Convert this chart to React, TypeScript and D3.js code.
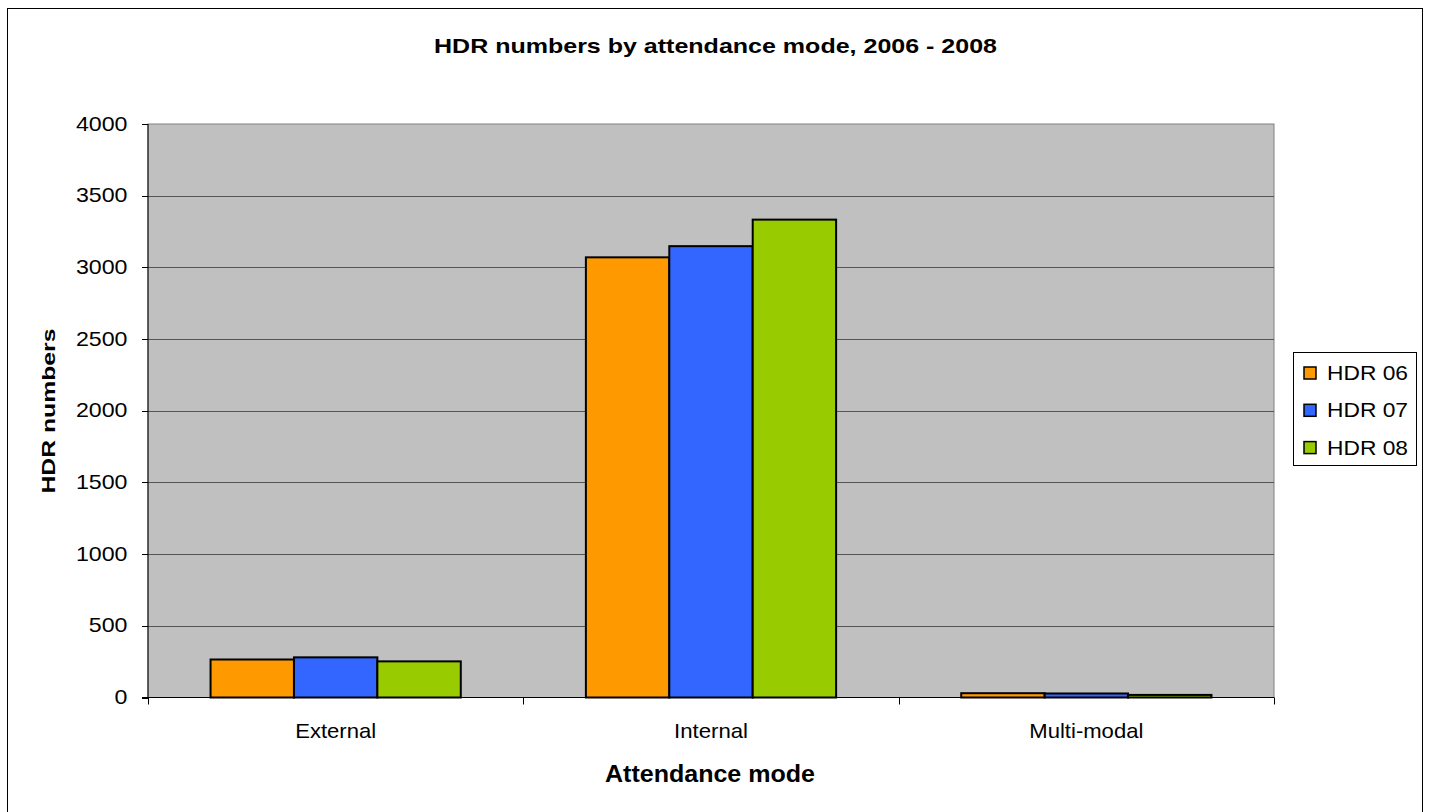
import React from "react";
import * as d3 from "d3";

const categories = ["External", "Internal", "Multi-modal"];
const seriesNames = ["HDR 06", "HDR 07", "HDR 08"];
const hdr06 = [265, 3070, 30];
const hdr07 = [280, 3148, 28];
const hdr08 = [252, 3333, 18];
const seriesColors = ["#FF9900", "#3366FF", "#99CC00"];
const yTicks = [0, 500, 1000, 1500, 2000, 2500, 3000, 3500, 4000];

const W = 1429;
const H = 812;
const plot = { left: 148, right: 1274, top: 124, bottom: 697.5 };
const FONT = "'Liberation Sans', Arial, sans-serif";
const catLabelLen: Record<string, number> = { External: 81, Internal: 74, "Multi-modal": 114 };

export default function App() {
  const series = [hdr06, hdr07, hdr08];
  const y = d3.scaleLinear().domain([0, 4000]).range([plot.bottom, plot.top]);
  const x = d3.scaleBand<string>().domain(categories).range([plot.left, plot.right]).paddingInner(0).paddingOuter(0);
  const inner = d3
    .scaleBand<string>()
    .domain(seriesNames)
    .range([0, x.bandwidth()])
    .paddingOuter(0.75)
    .paddingInner(0);

  return (
    <svg width={W} height={H} style={{ position: "absolute", left: 0, top: 0 }} fontFamily={FONT}>
      <rect x={0} y={0} width={W} height={H} fill="#fff" />
      <rect x={7.5} y={8.5} width={1415} height={810} fill="none" stroke="#000" strokeWidth={1} />
      <text x={715.5} y={53} textAnchor="middle" fontSize={21} fontWeight="bold" textLength={563} lengthAdjust="spacingAndGlyphs">
        HDR numbers by attendance mode, 2006 - 2008
      </text>
      <rect x={plot.left} y={plot.top} width={plot.right - plot.left} height={plot.bottom - plot.top} fill="#C0C0C0" stroke="#808080" strokeWidth={1} />
      {yTicks.map((t) => (
        <g key={t}>
          {t > 0 && t < 4000 && (
            <line x1={plot.left} x2={plot.right} y1={Math.round(y(t)) + 0.5} y2={Math.round(y(t)) + 0.5} stroke="#555" strokeWidth={1} />
          )}
          <line x1={plot.left - 6} x2={plot.left} y1={Math.round(y(t)) + 0.5} y2={Math.round(y(t)) + 0.5} stroke="#000" />
          <text
            x={127.5}
            y={y(t) + 6.5}
            textAnchor="end"
            fontSize={21}
            textLength={12.9 * String(t).length}
            lengthAdjust="spacingAndGlyphs"
          >
            {t}
          </text>
        </g>
      ))}
      {categories.map((c, ci) =>
        series.map((s, si) => {
          const bx = (x(c) as number) + (inner(seriesNames[si]) as number);
          return (
            <rect
              key={c + si}
              x={bx}
              y={y(s[ci])}
              width={inner.bandwidth()}
              height={plot.bottom - y(s[ci])}
              fill={seriesColors[si]}
              stroke="#000"
              strokeWidth={2}
            />
          );
        })
      )}
      <line x1={plot.left} x2={plot.left} y1={plot.top} y2={plot.bottom} stroke="#000" />
      <line x1={plot.left - 6} x2={plot.right} y1={plot.bottom} y2={plot.bottom} stroke="#000" />
      {[0, 1, 2, 3].map((i) => {
        const xx = Math.round(plot.left + i * x.bandwidth()) + 0.5;
        return <line key={i} x1={xx} x2={xx} y1={plot.bottom} y2={plot.bottom + 7} stroke="#000" />;
      })}
      {categories.map((c) => (
        <text
          key={c}
          x={(x(c) as number) + x.bandwidth() / 2}
          y={737.5}
          textAnchor="middle"
          fontSize={21}
          textLength={catLabelLen[c]}
          lengthAdjust="spacingAndGlyphs"
        >
          {c}
        </text>
      ))}
      <text x={710} y={782} textAnchor="middle" fontSize={23.5} fontWeight="bold" textLength={210} lengthAdjust="spacingAndGlyphs">
        Attendance mode
      </text>
      <text
        transform={`translate(55,411) rotate(-90)`}
        textAnchor="middle"
        fontSize={18}
        fontWeight="bold"
        textLength={165}
        lengthAdjust="spacingAndGlyphs"
      >
        HDR numbers
      </text>
      <rect x={1293.5} y={352.5} width={123} height={113} fill="#fff" stroke="#000" strokeWidth={1} />
      {seriesNames.map((n, i) => {
        const by = 380 + i * 37.3;
        return (
          <g key={n}>
            <rect x={1304} y={by - 13} width={12} height={12} fill={seriesColors[i]} stroke="#000" strokeWidth={1.5} />
            <text x={1327} y={by} fontSize={21} textLength={81} lengthAdjust="spacingAndGlyphs">
              {n}
            </text>
          </g>
        );
      })}
    </svg>
  );
}
